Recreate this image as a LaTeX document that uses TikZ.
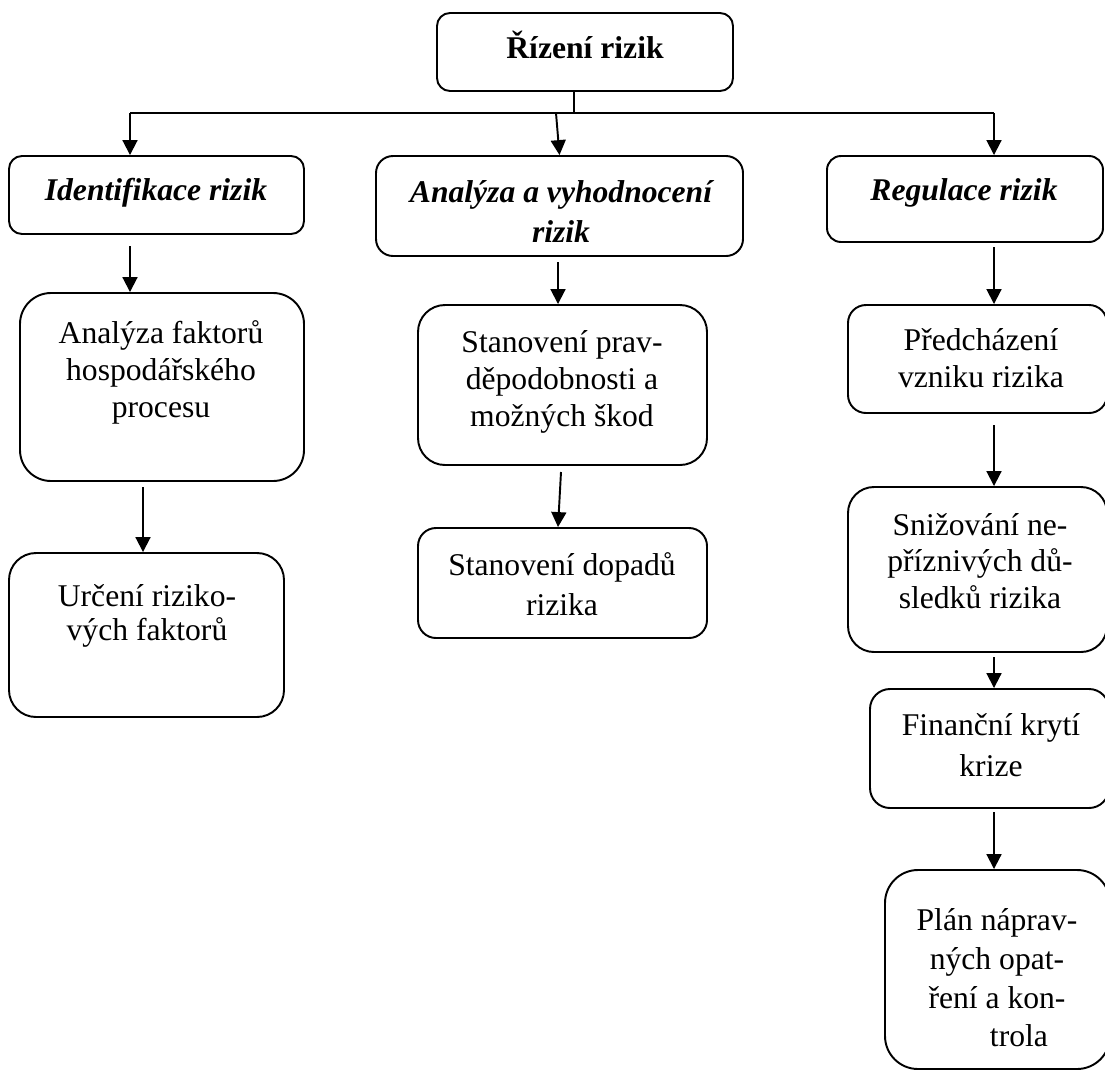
\documentclass[tikz,border=0pt]{standalone}
\usepackage{fontspec}
\setmainfont{Liberation Serif}
\usetikzlibrary{arrows.meta,fit}

\tikzset{
  box/.style={draw, line width=1.1pt, rounded corners=#1, inner sep=0pt},
  % multi-line label: first baseline sits on the given coordinate
  ml/.style={font=\fontsize{18}{#1}\selectfont, align=center, inner sep=0pt,
             anchor=north, yshift={0.7*#1}},
  % single-line label placed by its baseline
  sl/.style={font=\fontsize{18}{21}\selectfont, inner sep=0pt, anchor=base},
  hd/.style={font=\fontsize{18}{#1}\selectfont\bfseries\itshape},
  hd/.default=21pt,
  wire/.style={line width=1.1pt},
  flow/.style={wire, -{Triangle[width=8.5pt,length=8.5pt]}},
}

\begin{document}
\begin{tikzpicture}[x=0.02cm, y=-0.02cm]
\useasboundingbox (0,0) rectangle (1105,1072);

% --- boxes ---
\node[box=0.26cm, fit={(437,13) (733,91)}]    (top)   {};
\node[box=0.26cm, fit={(9,156) (304,234)}]    (ident) {};
\node[box=0.34cm, fit={(376,156) (743,256)}]  (anal)  {};
\node[box=0.28cm, fit={(827,156) (1103,242)}] (regul) {};
\node[box=0.62cm, fit={(20,293) (304,481)}]   (fakt)  {};
\node[box=0.54cm, fit={(9,553) (284,717)}]    (urc)   {};
\node[box=0.54cm, fit={(418,305) (707,465)}]  (prav)  {};
\node[box=0.36cm, fit={(418,528) (707,638)}]  (dopad) {};
\node[box=0.36cm, fit={(848,305) (1107,413)}] (pred)  {};
\node[box=0.52cm, fit={(848,487) (1107,652)}] (sniz)  {};
\node[box=0.40cm, fit={(870,689) (1109,808)}] (fin)   {};
\node[box=0.66cm, fit={(885,870) (1110,1069)}] (plan) {};

% --- labels ---
\node[sl, font=\fontsize{18}{21}\selectfont\bfseries] (top-t) at (585,58) {Řízení rizik};
\node[sl, hd] (ident-t) at (156,200) {Identifikace rizik};
\node[ml=22.7pt, hd=22.7pt] (anal-t) at (561,202) {\strut Analýza a vyhodnocení\\\strut rizik};
\node[sl, hd] (regul-t) at (964,200) {Regulace rizik};
\node[ml=21pt] (fakt-t) at (161,343) {\strut Analýza faktorů\\\strut hospodářského\\\strut procesu};
\node[ml=18.1pt] (urc-t) at (147,606) {\strut Určení riziko-\\\strut vých faktorů};
\node[ml=21pt] (prav-t) at (562,352) {\strut Stanovení prav-\\\strut děpodobnosti a\\\strut možných škod};
\node[ml=22.7pt] (dopad-t) at (562,575) {\strut Stanovení dopadů\\\strut rizika};
\node[ml=21pt] (pred-t) at (981,350) {\strut Předcházení\\\strut vzniku rizika};
\node[ml=20.7pt] (sniz-t) at (980,535) {\strut Snižování ne-\\\strut příznivých dů-\\\strut sledků rizika};
\node[ml=23.2pt] (fin-t) at (991,735) {\strut Finanční krytí\\\strut krize};
\node[ml=22.1pt] (plan-t) at (997,930) {\strut Plán náprav-\\\strut ných opat-\\\strut ření a kon-\\\strut\hspace*{25pt}trola};

% --- distribution line from the top box ---
\coordinate (stem) at (574,113);
\coordinate (busL) at (130,113);
\coordinate (busM) at (556,113);
\coordinate (busR) at (994,113);
\draw[wire] (stem |- top.south) -- (stem);
\draw[wire] (busL) -- (busR);
\draw[flow] (busL) -- (busL |- ident.north);
\draw[flow] (busM) -- (anal.north);
\draw[flow] (busR) -- (busR |- regul.north);

% --- column arrows ---
\coordinate (a1) at (130,246);
\coordinate (a2) at (143,487);
\coordinate (a3) at (558,262);
\coordinate (a4) at (561,472);
\coordinate (a4e) at (558,0);
\coordinate (a5) at (994,247);
\coordinate (a6) at (994,425);
\coordinate (a7) at (994,657);
\coordinate (a8) at (994,812);
\draw[flow] (a1) -- (a1 |- fakt.north);
\draw[flow] (a2) -- (a2 |- urc.north);
\draw[flow] (a3) -- (a3 |- prav.north);
\draw[flow] (a4) -- (a4e |- dopad.north);
\draw[flow] (a5) -- (a5 |- pred.north);
\draw[flow] (a6) -- (a6 |- sniz.north);
\draw[flow] (a7) -- (a7 |- fin.north);
\draw[flow] (a8) -- (a8 |- plan.north);
\end{tikzpicture}
\end{document}
